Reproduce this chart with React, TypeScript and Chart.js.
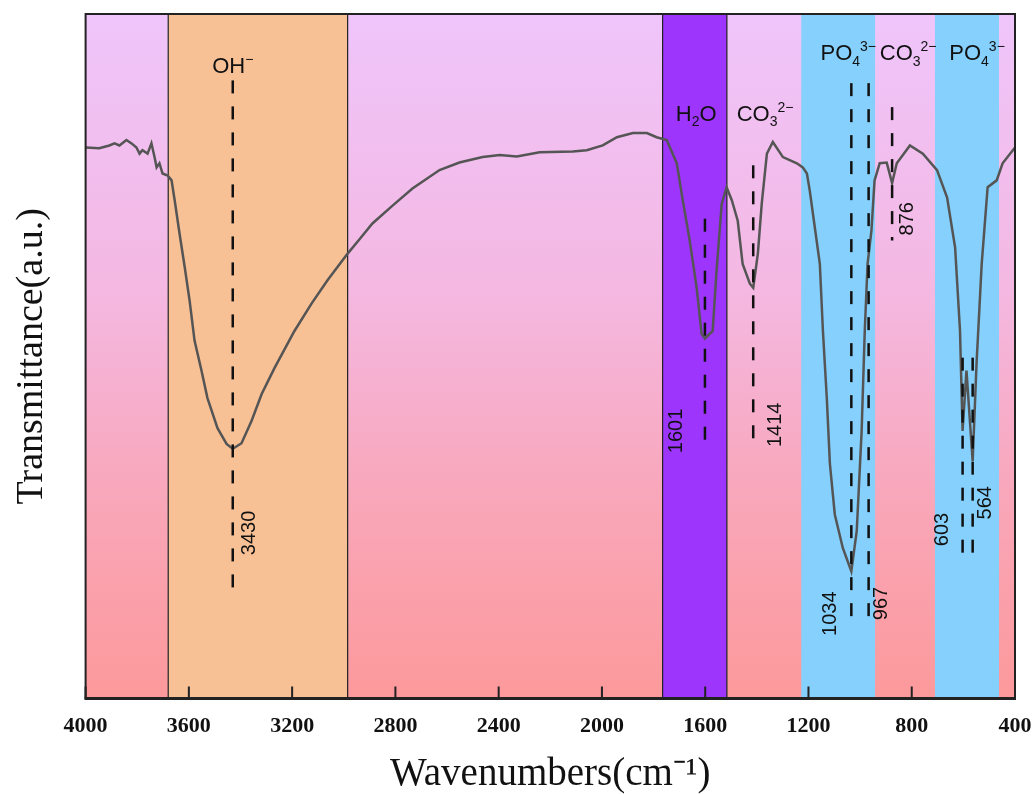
import React, { useEffect, useRef } from 'react';
import { Chart, registerables } from 'chart.js';

Chart.register(...registerables);

// ---------- data ----------
const wavenumbers = [
  4000, 3947, 3908, 3888, 3869, 3842, 3822, 3803, 3791, 3780, 3760, 3745, 3733, 3725, 3714, 3702,
  3682, 3667, 3655, 3636, 3616, 3597, 3578, 3551, 3528, 3489, 3454, 3430, 3396, 3357, 3318, 3268,
  3191, 3125, 3063, 2985, 2939, 2889, 2811, 2734, 2629, 2552, 2462, 2396, 2330, 2241, 2113, 2059,
  1997, 1942, 1880, 1826, 1788, 1749, 1710, 1687, 1660, 1633, 1614, 1601, 1571, 1556, 1536, 1517,
  1497, 1474, 1455, 1427, 1414, 1396, 1381, 1361, 1338, 1299, 1245, 1222, 1206, 1195, 1183, 1156,
  1144, 1129, 1117, 1098, 1067, 1034, 1013, 994, 982, 971, 956, 944, 924, 897, 876, 858,
  807, 757, 702, 663, 632, 613, 603, 588, 564, 549, 529, 506, 471, 448, 400,
];
const transmittance = [
  80.5, 80.4, 80.8, 81.1, 80.8, 81.6, 81.1, 80.5, 79.6, 80.1, 79.6, 81.1, 79.1, 77.6, 78.2, 76.7,
  76.4, 75.7, 72.8, 67.9, 63.0, 58.1, 52.3, 47.9, 43.9, 39.5, 37.2, 36.5, 37.3, 40.6, 44.5, 48.3,
  53.7, 57.7, 61.1, 65.0, 67.1, 69.4, 72.0, 74.5, 77.2, 78.3, 79.1, 79.4, 79.2, 79.8, 79.9, 80.1,
  80.8, 82.0, 82.6, 82.6, 82.0, 81.6, 78.2, 72.8, 66.9, 60.0, 53.3, 52.6, 53.7, 62.5, 72.3, 74.7,
  72.8, 69.8, 63.5, 60.6, 60.0, 65.0, 72.3, 79.6, 81.3, 79.1, 78.2, 77.6, 76.7, 74.2, 70.9, 63.5,
  53.7, 43.9, 34.3, 26.9, 22.0, 18.6, 24.5, 39.1, 53.7, 63.5, 68.4, 75.7, 78.2, 78.3, 75.3, 78.2,
  80.8, 79.6, 77.2, 73.2, 65.9, 53.7, 39.1, 47.9, 34.7, 48.9, 63.5, 74.7, 75.7, 78.2, 80.5,
];
const xTicks = [4000, 3600, 3200, 2800, 2400, 2000, 1600, 1200, 800, 400];

// shaded assignment bands (wavenumber ranges)
const bandStart = [3680, 1765, 1228, 710];
const bandEnd = [2985, 1516, 942, 462];
const bandColors = ['#f7c095', '#9d35fd', '#85d0fc', '#85d0fc'];
const bandOutlined = [true, true, false, false];

// marked peaks
const peakWavenumbers = [3430, 1601, 1414, 1034, 967, 876, 603, 564];
const peakLineTop = [90.3, 70.1, 77.9, 89.9, 89.9, 86.4, 49.8, 49.8];
const peakLineBottom = [15.7, 36.9, 37.2, 10.5, 10.5, 66.9, 20.8, 20.8];
const peakLabelLevel = [24.2, 39.1, 40.0, 12.4, 13.9, 70.1, 24.7, 28.6];
const peakLabelShift = [17, -28, 22, -21, 13, 15, -20, 13];

// group labels: [text, kind]
type Seg = [string, '' | 'sub' | 'sup'];
const groupLabels: Seg[][] = [
  [['OH', ''], ['−', 'sup']],
  [['H', ''], ['2', 'sub'], ['O', '']],
  [['CO', ''], ['3', 'sub'], ['2−', 'sup']],
  [['PO', ''], ['4', 'sub'], ['3−', 'sup']],
  [['CO', ''], ['3', 'sub'], ['2−', 'sup']],
  [['PO', ''], ['4', 'sub'], ['3−', 'sup']],
];
const groupWavenumber = [3430, 1635, 1368, 1046, 814, 547];
const groupLevel = [92.5, 85.5, 85.5, 94.4, 94.4, 94.4];

const SANS = '"Liberation Sans", Arial, sans-serif';
const SERIF = '"Liberation Serif", "Times New Roman", serif';

function drawRich(ctx: CanvasRenderingContext2D, segs: Seg[], cx: number, cy: number, size: number) {
  const small = Math.round(size * 0.64);
  const fontFor = (k: string) => (k ? `${small}px ${SANS}` : `${size}px ${SANS}`);
  let w = 0;
  for (const [t, k] of segs) {
    ctx.font = fontFor(k);
    w += ctx.measureText(t).width;
  }
  let x = cx - w / 2;
  const base = cy + size * 0.36;
  ctx.textAlign = 'left';
  ctx.textBaseline = 'alphabetic';
  for (const [t, k] of segs) {
    ctx.font = fontFor(k);
    const y = k === 'sub' ? base + size * 0.24 : k === 'sup' ? base - size * 0.44 : base;
    ctx.fillText(t, x, y);
    x += ctx.measureText(t).width;
  }
}

const decorPlugin = {
  id: 'decor',
  beforeDatasetsDraw(chart: any) {
    const { ctx, chartArea: a, scales } = chart;
    const xs = scales.x;
    ctx.save();
    const g = ctx.createLinearGradient(0, a.top, 0, a.bottom);
    g.addColorStop(0, '#efc5fb');
    g.addColorStop(0.4, '#f4b8e2');
    g.addColorStop(0.72, '#f9a6b8');
    g.addColorStop(1, '#fc999b');
    ctx.fillStyle = g;
    ctx.fillRect(a.left, a.top, a.right - a.left, a.bottom - a.top);
    for (let i = 0; i < bandStart.length; i++) {
      const x1 = xs.getPixelForValue(bandStart[i]);
      const x2 = xs.getPixelForValue(bandEnd[i]);
      ctx.fillStyle = bandColors[i];
      ctx.fillRect(x1, a.top, x2 - x1, a.bottom - a.top);
      if (bandOutlined[i]) {
        ctx.strokeStyle = '#222';
        ctx.lineWidth = 1.2;
        ctx.beginPath();
        ctx.moveTo(x1, a.top);
        ctx.lineTo(x1, a.bottom);
        ctx.moveTo(x2, a.top);
        ctx.lineTo(x2, a.bottom);
        ctx.stroke();
      }
    }
    ctx.restore();
  },
  afterDatasetsDraw(chart: any) {
    const { ctx, chartArea: a, scales } = chart;
    const xs = scales.x;
    const ys = scales.y;
    ctx.save();
    ctx.fillStyle = '#111';
    // peak numbers (rotated)
    ctx.font = `20px ${SANS}`;
    ctx.textAlign = 'center';
    ctx.textBaseline = 'middle';
    for (let i = 0; i < peakWavenumbers.length; i++) {
      const px = xs.getPixelForValue(peakWavenumbers[i]) + peakLabelShift[i];
      const py = ys.getPixelForValue(peakLabelLevel[i]);
      ctx.save();
      ctx.translate(px, py);
      ctx.rotate(-Math.PI / 2);
      ctx.fillText(String(peakWavenumbers[i]), 0, 0);
      ctx.restore();
    }
    // group labels
    for (let i = 0; i < groupLabels.length; i++) {
      drawRich(ctx, groupLabels[i], xs.getPixelForValue(groupWavenumber[i]), ys.getPixelForValue(groupLevel[i]), 22);
    }
    // frame
    ctx.strokeStyle = '#222';
    ctx.lineWidth = 2;
    ctx.strokeRect(a.left, a.top, a.right - a.left, a.bottom - a.top);
    ctx.lineWidth = 3;
    ctx.beginPath();
    ctx.moveTo(a.left - 1, a.bottom);
    ctx.lineTo(a.right + 1, a.bottom);
    ctx.stroke();
    // inward ticks
    ctx.lineWidth = 2;
    ctx.beginPath();
    for (const t of xTicks) {
      const x = xs.getPixelForValue(t);
      ctx.moveTo(x, a.bottom);
      ctx.lineTo(x, a.bottom - 12);
    }
    ctx.stroke();
    ctx.restore();
  },
};

export default function App() {
  const ref = useRef<HTMLCanvasElement>(null);
  useEffect(() => {
    const curve = wavenumbers.map((w, i) => ({ x: w, y: transmittance[i] }));
    const dashed = peakWavenumbers.map((w, i) => ({
      data: [
        { x: w, y: peakLineTop[i] },
        { x: w, y: peakLineBottom[i] },
      ],
      borderColor: '#111',
      borderWidth: 2.5,
      borderDash: [13, 13],
      pointRadius: 0,
      fill: false,
      tension: 0,
      order: 1,
    }));
    const chart = new Chart(ref.current!, {
      type: 'line',
      data: {
        datasets: [
          ...dashed,
          {
            data: curve,
            borderColor: '#555555',
            borderWidth: 2.5,
            pointRadius: 0,
            fill: false,
            tension: 0,
            order: 2,
          },
        ] as any,
      },
      options: {
        responsive: false,
        devicePixelRatio: 1,
        animation: false,
        layout: { padding: { top: 14, right: 20, bottom: 0, left: 0 } },
        plugins: { legend: { display: false }, tooltip: { enabled: false } },
        scales: {
          x: {
            type: 'linear',
            reverse: true,
            min: 400,
            max: 4000,
            afterBuildTicks: (s: any) => {
              s.ticks = xTicks.map((v) => ({ value: v }));
            },
            afterFit: (s: any) => {
              s.paddingLeft = 0;
              s.paddingRight = 0;
            },
            ticks: {
              autoSkip: false,
              maxRotation: 0,
              padding: 15,
              color: '#111',
              font: { family: SERIF, size: 22, weight: 'bold' },
              callback: (v: any) => String(v),
            },
            grid: { display: false, drawTicks: false },
            border: { display: false },
            title: {
              display: true,
              text: 'Wavenumbers(cm⁻¹)',
              color: '#111',
              font: { family: SERIF, size: 39, lineHeight: 1 },
              padding: { top: 0, bottom: 0 },
            },
          },
          y: {
            min: 0,
            max: 100,
            ticks: { display: false },
            grid: { display: false, drawTicks: false },
            border: { display: false },
            title: {
              display: true,
              text: 'Transmittance(a.u.)',
              color: '#111',
              font: { family: SERIF, size: 38, lineHeight: 1.2 },
              padding: { top: 9, bottom: 31 },
            },
          },
        },
      } as any,
      plugins: [decorPlugin],
    });
    return () => chart.destroy();
  }, []);
  return (
    <div style={{ position: 'fixed', left: 0, top: 0, width: 1035, height: 794, background: '#fff' }}>
      <canvas ref={ref} width={1035} height={794} style={{ display: 'block' }} />
    </div>
  );
}
